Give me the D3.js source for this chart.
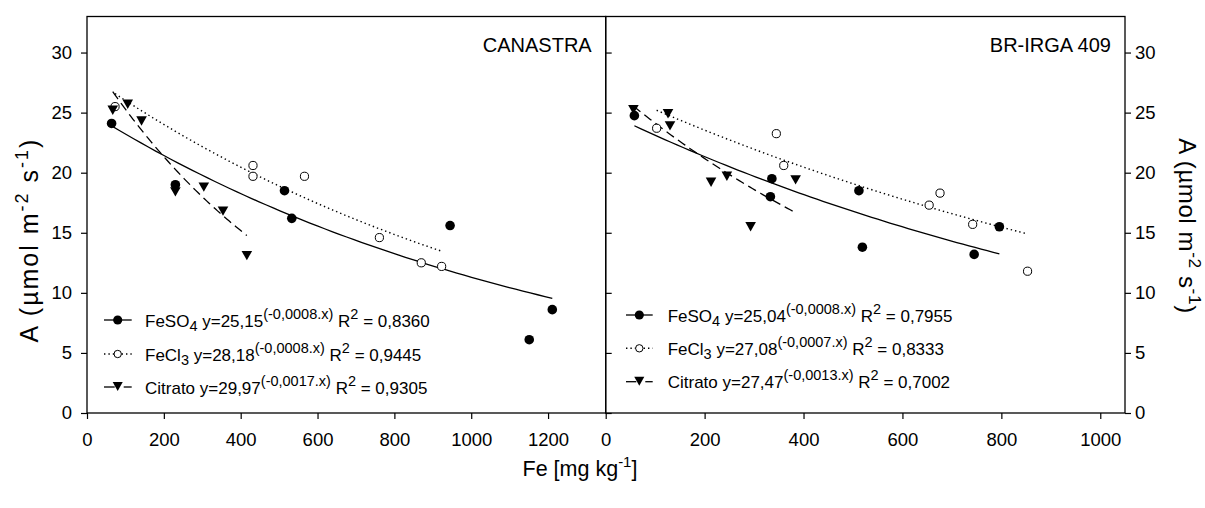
<!DOCTYPE html>
<html>
<head>
<meta charset="utf-8">
<script src="https://cdn.jsdelivr.net/npm/d3@7"></script>
<style>
  html, body { margin: 0; padding: 0; background: #fff; }
  svg { display: block; font-family: "Liberation Sans", Arial, Helvetica, sans-serif; }
</style>
</head>
<body>
<svg id="chart" width="1205" height="508"></svg>
<script>
// ---- data: net photosynthesis A vs leaf Fe, two cultivars ----
const yTickValues = [0, 5, 10, 15, 20, 25, 30];
const leftXTicks = [0, 200, 400, 600, 800, 1000, 1200];
const rightXTicks = [0, 200, 400, 600, 800, 1000];

const panelNames = ["CANASTRA", "BR-IRGA 409"];
const sourceNames = ["FeSO4", "FeCl3", "Citrato"];

// CANASTRA observations [Fe, A]
const canastraFeSO4 = [[64, 24.1], [230, 19.0], [514, 18.5], [533, 16.2], [945, 15.6], [1151, 6.1], [1211, 8.6]];
const canastraFeCl3 = [[73, 25.5], [432, 20.6], [432, 19.7], [566, 19.7], [761, 14.6], [870, 12.5], [923, 12.2]];
const canastraCitrato = [[67, 25.2], [106, 25.7], [142, 24.3], [230, 18.4], [304, 18.8], [354, 16.8], [416, 13.1]];

// BR-IRGA 409 observations [Fe, A]
const irgaFeSO4 = [[58, 24.75], [336, 19.5], [333, 18.0], [512, 18.5], [519, 13.8], [745, 13.2], [796, 15.5]];
const irgaFeCl3 = [[103, 23.7], [345, 23.25], [360, 20.6], [654, 17.3], [676, 18.3], [742, 15.7], [853, 11.8]];
const irgaCitrato = [[56, 25.25], [126, 24.9], [130, 23.9], [213, 19.2], [245, 19.7], [293, 15.5], [384, 19.4]];

// fitted models y = a * exp(b * x) and their R²
const canastraFitA = [25.15, 28.18, 29.97];
const canastraFitB = [-0.0008, -0.0008, -0.0017];
const canastraR2 = [0.8360, 0.9445, 0.9305];
const irgaFitA = [25.04, 27.08, 27.47];
const irgaFitB = [-0.0008, -0.0007, -0.0013];
const irgaR2 = [0.7955, 0.8333, 0.7002];

// ---- layout ----
const svg = d3.select("#chart");
const yTop = 16.5, yBottom = 413;
const yScale = d3.scaleLinear().domain([0, 33]).range([yBottom, yTop]);
const tickFont = 18.5;

const panels = [
  {
    name: panelNames[0],
    x: d3.scaleLinear().domain([0, 1350]).range([87, 605.7]),
    ticks: leftXTicks,
    series: [canastraFeSO4, canastraFeCl3, canastraCitrato],
    fitA: canastraFitA, fitB: canastraFitB, r2: canastraR2,
    legend: { x0: 104, x1: 131.7, mx: 117.7, tx: 145, rows: [320, 354, 387] }
  },
  {
    name: panelNames[1],
    x: d3.scaleLinear().domain([0, 1050]).range([605.7, 1125]),
    ticks: rightXTicks,
    series: [irgaFeSO4, irgaFeCl3, irgaCitrato],
    fitA: irgaFitA, fitB: irgaFitB, r2: irgaR2,
    legend: { x0: 626, x1: 652.7, mx: 639.3, tx: 667.7, rows: [315, 348.3, 381.7] }
  }
];

const lineDash = [null, "1.4,3", "9,5"];
const lineWidth = [1.3, 1.4, 1.3];

function comma(v, digits) { return v.toFixed(digits).replace(".", ","); }

function marker(g, kind, cx, cy, scale) {
  const s = scale || 1;
  if (kind === 0) {
    g.append("circle").attr("cx", cx).attr("cy", cy).attr("r", 4.8 * s).attr("fill", "#000");
  } else if (kind === 1) {
    g.append("circle").attr("cx", cx).attr("cy", cy).attr("r", 4.1 * s)
      .attr("fill", "#fff").attr("stroke", "#000").attr("stroke-width", 1);
  } else {
    const w = 5.3 * s, h = 4.7 * s;
    g.append("path")
      .attr("d", `M${cx - w},${cy - h}L${cx + w},${cy - h}L${cx},${cy + h}Z`)
      .attr("fill", "#000");
  }
}

function styleAxis(sel) {
  sel.select(".domain").remove();
  sel.selectAll("line").attr("stroke", "#000").attr("stroke-width", 1.2);
  sel.selectAll("text").attr("font-size", tickFont).attr("fill", "#000");
  sel.attr("font-family", null).attr("font-size", null);
}

panels.forEach((p, pi) => {
  const g = svg.append("g");
  const [xl, xr] = p.x.range();

  // frame
  g.append("rect").attr("x", xl).attr("y", yTop).attr("width", xr - xl).attr("height", yBottom - yTop)
    .attr("fill", "none").attr("stroke", "#000").attr("stroke-width", 1.3);

  // x axis
  const xAxis = d3.axisBottom(p.x).tickValues(p.ticks).tickFormat(d3.format("d"))
    .tickSize(6).tickSizeOuter(0).tickPadding(14);
  styleAxis(g.append("g").attr("transform", `translate(0,${yBottom})`).call(xAxis));

  // y axis
  if (pi === 0) {
    const yAxis = d3.axisLeft(yScale).tickValues(yTickValues).tickSize(6).tickSizeOuter(0).tickPadding(9);
    styleAxis(g.append("g").attr("transform", `translate(${xl},0)`).call(yAxis));
  } else {
    // inner ticks along the shared divider
    const gi = g.append("g").attr("transform", `translate(${xl},0)`)
      .call(d3.axisRight(yScale).tickValues(yTickValues).tickSize(6).tickSizeOuter(0).tickFormat(""));
    styleAxis(gi);
    const yAxis = d3.axisRight(yScale).tickValues(yTickValues).tickSize(6).tickSizeOuter(0).tickPadding(4);
    styleAxis(g.append("g").attr("transform", `translate(${xr},0)`).call(yAxis));
  }

  // panel title
  g.append("text").attr("x", xr - 14).attr("y", 52).attr("text-anchor", "end")
    .attr("font-size", 20).text(p.name);

  // fitted curves over each series' observed Fe range
  p.series.forEach((pts, si) => {
    const xs = pts.map(d => d[0]);
    const lo = d3.min(xs), hi = d3.max(xs);
    const a = p.fitA[si], b = p.fitB[si];
    const curve = d3.range(0, 61).map(i => {
      const x = lo + (hi - lo) * i / 60;
      return [x, a * Math.exp(b * x)];
    });
    g.append("path").datum(curve)
      .attr("d", d3.line().x(d => p.x(d[0])).y(d => yScale(d[1])))
      .attr("fill", "none").attr("stroke", "#000").attr("stroke-width", lineWidth[si])
      .attr("stroke-dasharray", lineDash[si]);
  });

  // observations
  p.series.forEach((pts, si) => {
    const mg = g.append("g");
    pts.forEach(d => marker(mg, si, p.x(d[0]), yScale(d[1])));
  });

  // legend with regression equations
  const L = p.legend;
  sourceNames.forEach((name, si) => {
    const cy = L.rows[si];
    const lg = g.append("g");
    if (si === 2) {
      lg.append("line").attr("x1", L.x0).attr("x2", L.mx - 3).attr("y1", cy).attr("y2", cy)
        .attr("stroke", "#000").attr("stroke-width", 1.3);
      lg.append("line").attr("x1", L.mx + 6).attr("x2", L.x1).attr("y1", cy).attr("y2", cy)
        .attr("stroke", "#000").attr("stroke-width", 1.3);
    } else {
      lg.append("line").attr("x1", L.x0).attr("x2", L.x1).attr("y1", cy).attr("y2", cy)
        .attr("stroke", "#000").attr("stroke-width", lineWidth[si])
        .attr("stroke-dasharray", lineDash[si]);
    }
    marker(lg, si, L.mx, si === 2 ? cy - 0.5 : cy, si === 0 ? 0.95 : (si === 1 ? 0.9 : 0.95));

    const label = name.replace(/\d$/, "");
    const sub = name.match(/\d$/);
    const t = lg.append("text").attr("x", L.tx).attr("y", cy + 6.5).attr("font-size", 17);
    t.append("tspan").text(label);
    if (sub) {
      t.append("tspan").attr("font-size", 14.5).attr("dy", 4).text(sub[0]);
      t.append("tspan").attr("dy", -4).text(" ");
    } else {
      t.append("tspan").text(" ");
    }
    t.append("tspan").text("y=" + comma(p.fitA[si], 2));
    t.append("tspan").attr("font-size", 14.5).attr("dy", -8)
      .text("(" + comma(p.fitB[si], 4) + ".x)");
    t.append("tspan").attr("dy", 8).text(" R");
    t.append("tspan").attr("font-size", 14.5).attr("dy", -8).text("2");
    t.append("tspan").attr("dy", 8).text(" = " + comma(p.r2[si], 4));
  });
});

// axis titles
const xt = svg.append("text").attr("x", 580).attr("y", 476).attr("text-anchor", "middle").attr("font-size", 21.5);
xt.append("tspan").text("Fe [mg kg");
xt.append("tspan").attr("font-size", 15).attr("dy", -9).text("-1");
xt.append("tspan").attr("dy", 9).text("]");

function yTitle(x, y, angle, size, spacing) {
  const t = svg.append("text").attr("transform", `translate(${x},${y}) rotate(${angle})`)
    .attr("text-anchor", "middle").attr("font-size", size).attr("letter-spacing", spacing);
  t.append("tspan").text("A (µmol m");
  t.append("tspan").attr("font-size", size * 0.72).attr("dy", -size * 0.42).text("-2");
  t.append("tspan").attr("dy", size * 0.42).text(" s");
  t.append("tspan").attr("font-size", size * 0.72).attr("dy", -size * 0.42).text("-1");
  t.append("tspan").attr("dy", size * 0.42).text(")");
}
yTitle(38, 240, -90, 25, 2);
yTitle(1179, 226, 90, 24, 0.6);
</script>
</body>
</html>
